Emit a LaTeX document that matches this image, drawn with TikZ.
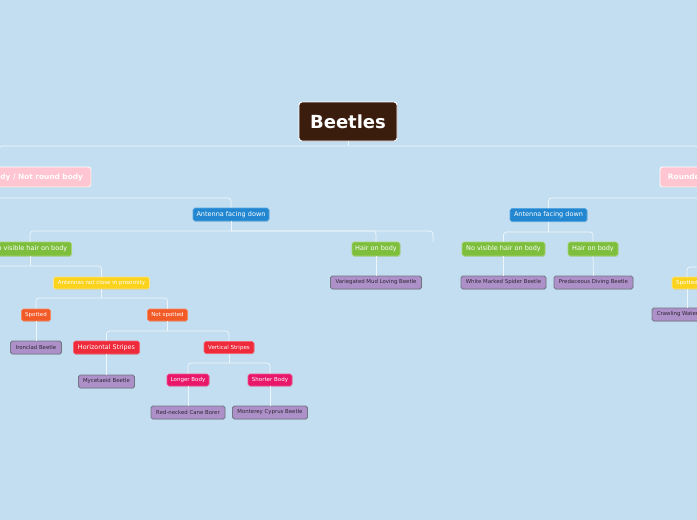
\documentclass[tikz,border=0pt]{standalone}
\usepackage{fontspec}
\setmainfont{DejaVu Sans}
\usetikzlibrary{shadows}
\definecolor{bgc}{HTML}{C3DEF0}
\definecolor{linec}{HTML}{EEF6FB}
\definecolor{rootc}{HTML}{3B1D0E}
\definecolor{pinkc}{HTML}{FFC5D1}
\definecolor{bluec}{HTML}{2287D0}
\definecolor{blueb}{HTML}{55A6E0}
\definecolor{greenc}{HTML}{7DBE3C}
\definecolor{greenb}{HTML}{A8D573}
\definecolor{yellowc}{HTML}{FBD31D}
\definecolor{yellowb}{HTML}{FDE68C}
\definecolor{orangec}{HTML}{F25A27}
\definecolor{orangeb}{HTML}{F7895F}
\definecolor{redc}{HTML}{EE2A3B}
\definecolor{redb}{HTML}{F46672}
\definecolor{magc}{HTML}{E9176A}
\definecolor{magb}{HTML}{F0558F}
\definecolor{purc}{HTML}{AE90C8}
\definecolor{purb}{HTML}{6F7785}
\definecolor{leaftext}{HTML}{2E2636}
\tikzset{
  sz/.style 2 args={minimum width=#1pt, minimum height=#2pt},
  box/.style={rounded corners=1.8pt, inner sep=0pt, line width=0.6pt, text=white,
     drop shadow={opacity=0.18, shadow xshift=0.6pt, shadow yshift=-0.8pt}},
  rootbox/.style={box, rounded corners=3pt, fill=rootc, draw=white, line width=0.9pt,
     font=\fontsize{18}{20}\selectfont\bfseries},
  pinkbox/.style={box, rounded corners=2.5pt, fill=pinkc, draw=white, line width=0.8pt,
     font=\fontsize{7.4}{8}\selectfont\bfseries},
  bluebox/.style={box, fill=bluec, draw=blueb, font=\fontsize{6.5}{7}\selectfont},
  greenbox/.style={box, fill=greenc, draw=greenb, font=\fontsize{6.5}{7}\selectfont},
  yellowbox/.style={box, fill=yellowc, draw=yellowb, font=\fontsize{5.5}{6}\selectfont},
  orangebox/.style={box, fill=orangec, draw=orangeb, font=\fontsize{5.5}{6}\selectfont},
  redbox/.style={box, fill=redc, draw=redb, font=\fontsize{5.5}{6}\selectfont},
  bigredbox/.style={box, fill=redc, draw=redb, font=\fontsize{6.4}{7}\selectfont},
  magbox/.style={box, fill=magc, draw=magb, font=\fontsize{5.5}{6}\selectfont},
  leafbox/.style={box, fill=purc, draw=purb, line width=0.8pt, text=leaftext,
     font=\fontsize{5.4}{6}\selectfont},
  conn/.style={draw=linec, line width=0.7pt, rounded corners=3pt},
}
\begin{document}
\begin{tikzpicture}[x=1pt,y=-1pt]
\useasboundingbox (0,0) rectangle (697,520);
\clip (0,0) rectangle (697,520);
\fill[bgc] (0,0) rectangle (697,520);

% nodes
\node[rootbox, sz={98}{39}] (root) at (348,121.5) {Beetles};
\node[pinkbox, sz={184}{20}, text width=168pt, align=right] (lpink) at (-1,177) {dy / Not round body};
\node[pinkbox, sz={76}{20}] (rpink) at (698,177) {Rounded body};

\node[bluebox, sz={76}{13}] (lant) at (231,214.5) {Antenna facing down};
\node[greenbox, sz={83}{14}] (lnohair) at (30,249) {No visible hair on body};
\node[greenbox, sz={48}{14}] (lhair) at (376,249) {Hair on body};
\coordinate (ghost) at (433,242);
\coordinate (lnoff) at (-45,277);
\node[leafbox, sz={91}{13}] (lvar) at (376,282.5) {Variegated Mud Loving Beetle};
\node[yellowbox, sz={96}{12}] (lanten) at (101.5,283) {Antennas not close in proximity};
\node[orangebox, sz={29}{12}] (spot) at (36,315) {Spotted};
\node[orangebox, sz={40}{12}] (notspot) at (167.5,315) {Not spotted};
\node[leafbox, sz={51}{13}] (iron) at (36,347.5) {Ironclad Beetle};
\node[bigredbox, sz={66}{13}] (hstr) at (106.5,347.5) {Horizontal Stripes};
\node[redbox, sz={50}{12}] (vstr) at (229,347.5) {Vertical Stripes};
\node[leafbox, sz={56}{13}] (myc) at (106.5,381.5) {Mycetaeid Beetle};
\node[magbox, sz={42}{12}] (longer) at (188,380) {Longer Body};
\node[magbox, sz={44}{12}] (shorter) at (270,380) {Shorter Body};
\node[leafbox, sz={74}{13}] (rnc) at (188,412.5) {Red-necked Cane Borer};
\node[leafbox, sz={75}{13}] (mcb) at (270,412.5) {Monterey Cyprus Beetle};

\node[bluebox, sz={77}{13}] (rant) at (548.5,215) {Antenna facing down};
\node[greenbox, sz={83}{14}] (rnohair) at (503.5,249) {No visible hair on body};
\node[greenbox, sz={50}{14}] (rhair) at (593,249) {Hair on body};
\node[leafbox, sz={85}{13}] (wmsb) at (503.5,282.5) {White Marked Spider Beetle};
\node[leafbox, sz={79}{13}] (pdb) at (593.5,282.5) {Predaceous Diving Beetle};
\node[yellowbox, sz={30}{12}] (rspot) at (687,283) {Spotted};
\node[leafbox, sz={70}{13}] (crawl) at (687,314.5) {Crawling Water Beetle};
\coordinate (rgp) at (760,267);

% connectors
\path[conn] (root.south) -- (root.south |- 0,146);
\path[conn] (root.south |- 0,146) -| (lpink.north);
\path[conn] (root.south |- 0,146) -| (rpink.north);

\path[conn] (lpink.south) -- (lpink.south |- 0,198);
\path[conn] (lpink.south |- 0,198) -| (lant.north);

\path[conn] (rpink.south) -- (rpink.south |- 0,198);
\path[conn] (rpink.south |- 0,198) -| (rant.north);

\path[conn] (lant.south) -- (lant.south |- 0,231);
\path[conn] (lant.south |- 0,231) -| (lnohair.north);
\path[conn] (lant.south |- 0,231) -| (lhair.north);
\path[conn] (lant.south |- 0,231) -| (ghost);

\path[conn] (lhair.south) -- (lvar.north);

\path[conn] (lnohair.south) -- (lnohair.south |- 0,266);
\path[conn] (lnohair.south |- 0,266) -| (lanten.north);
\path[conn] (lnohair.south |- 0,266) -| (lnoff);

\path[conn] (lanten.south) -- (lanten.south |- 0,298);
\path[conn] (lanten.south |- 0,298) -| (spot.north);
\path[conn] (lanten.south |- 0,298) -| (notspot.north);

\path[conn] (spot.south) -- (iron.north);

\path[conn] (notspot.south) -- (notspot.south |- 0,331);
\path[conn] (notspot.south |- 0,331) -| (hstr.north);
\path[conn] (notspot.south |- 0,331) -| (vstr.north);

\path[conn] (hstr.south) -- (myc.north);

\path[conn] (vstr.south) -- (vstr.south |- 0,363);
\path[conn] (vstr.south |- 0,363) -| (longer.north);
\path[conn] (vstr.south |- 0,363) -| (shorter.north);

\path[conn] (longer.south) -- (rnc.north);
\path[conn] (shorter.south) -- (mcb.north);

\path[conn] (rant.south) -- (rant.south |- 0,232);
\path[conn] (rant.south |- 0,232) -| (rnohair.north);
\path[conn] (rant.south |- 0,232) -| (rhair.north);

\path[conn] (rnohair.south) -- (wmsb.north);
\path[conn] (rhair.south) -- (pdb.north);

\path[conn] (rgp) -| (rspot.north);
\path[conn] (rspot.south) -- (crawl.north);
\end{tikzpicture}
\end{document}
